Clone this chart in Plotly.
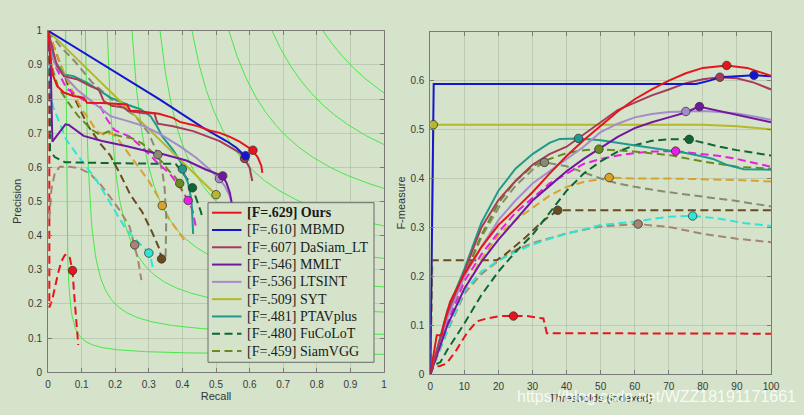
import numpy as np
import plotly.graph_objects as go

# ---------------- data ----------------
names = ["Ours", "MBMD", "DaSiam_LT", "MMLT", "LTSINT", "SYT", "PTAVplus", "FuCoLoT", "SiamVGG",
         "Tracker-10", "Tracker-11", "Tracker-12", "Tracker-13", "Tracker-14", "Tracker-15", "Tracker-16"]
legend_scores = [".629", ".610", ".607", ".546", ".536", ".509", ".481", ".480", ".459"]
colors = ["#e8141c", "#1616d2", "#a63c5c", "#7218a0", "#a68bcb", "#b4b82a", "#1f9a8c", "#0e6636", "#6b8a1e",
          "#e81ee0", "#8a8a72", "#d9a22a", "#6b4a22", "#2ee6d6", "#a88470", "#e8141c"]
dashed = [False, False, False, False, False, False, False, True, True,
          True, True, True, True, True, True, True]

# Precision-Recall curves
ours_R = [0, 0.005, 0.012, 0.027, 0.047, 0.076, 0.106, 0.116, 0.16, 0.235, 0.245, 0.26, 0.3, 0.33, 0.372, 0.392,
          0.441, 0.481, 0.511, 0.54, 0.57, 0.608, 0.625, 0.635, 0.638]
ours_P = [1, 0.95, 0.877, 0.838, 0.819, 0.809, 0.804, 0.789, 0.788, 0.784, 0.765, 0.766, 0.762, 0.757, 0.745, 0.733,
          0.722, 0.708, 0.701, 0.69, 0.675, 0.651, 0.628, 0.604, 0.584]
mbmd_R = [0, 0.332, 0.461, 0.531, 0.56, 0.575, 0.588]
mbmd_P = [1, 0.799, 0.716, 0.677, 0.658, 0.645, 0.632]
dasiam_R = [0, 0.008, 0.017, 0.027, 0.047, 0.086, 0.126, 0.151, 0.166, 0.19, 0.225, 0.24, 0.285, 0.317, 0.322, 0.327,
            0.372, 0.432, 0.511, 0.57, 0.585, 0.6, 0.608]
dasiam_P = [1, 0.97, 0.936, 0.897, 0.867, 0.858, 0.838, 0.828, 0.794, 0.78, 0.775, 0.765, 0.758, 0.758, 0.74, 0.728,
            0.72, 0.706, 0.677, 0.643, 0.626, 0.599, 0.56]
mmlt_R = [0, 0.008, 0.013, 0.032, 0.052, 0.062, 0.106, 0.161, 0.235, 0.314, 0.332, 0.412, 0.471, 0.519, 0.531, 0.541,
          0.546, 0.548]
mmlt_P = [1, 0.9, 0.675, 0.701, 0.726, 0.724, 0.692, 0.677, 0.662, 0.643, 0.641, 0.62, 0.593, 0.575, 0.555, 0.526,
          0.5, 0.47]
ltsint_R = [0, 0.007, 0.027, 0.057, 0.086, 0.116, 0.161, 0.186, 0.235, 0.285, 0.334, 0.392, 0.441, 0.481, 0.509,
            0.526, 0.541, 0.548]
ltsint_P = [1, 0.936, 0.892, 0.858, 0.828, 0.804, 0.77, 0.75, 0.736, 0.721, 0.697, 0.662, 0.628, 0.594, 0.567,
            0.546, 0.516, 0.49]
syt_R = [0, 0.25, 0.5]
syt_P = [1, 0.76, 0.52]
ptav_R = [0, 0.008, 0.017, 0.047, 0.076, 0.116, 0.156, 0.186, 0.235, 0.275, 0.305, 0.324, 0.339, 0.372, 0.397, 0.40,
          0.417, 0.427, 0.43, 0.432]
ptav_P = [1, 0.96, 0.916, 0.872, 0.867, 0.848, 0.823, 0.804, 0.784, 0.77, 0.75, 0.721, 0.692, 0.651, 0.612, 0.595,
          0.553, 0.504, 0.446, 0.405]
fucolot_R = [0.004, 0.005, 0.006, 0.02, 0.05, 0.2, 0.38, 0.4, 0.415, 0.43, 0.445, 0.455, 0.46]
fucolot_P = [1, 0.8, 0.65, 0.63, 0.615, 0.612, 0.61, 0.585, 0.565, 0.54, 0.5, 0.47, 0.45]
siamvgg_R = [0, 0.01, 0.03, 0.06, 0.09, 0.11, 0.13, 0.155, 0.18, 0.2, 0.22, 0.25, 0.28, 0.31, 0.34, 0.36, 0.38,
             0.392, 0.40]
siamvgg_P = [1, 0.9, 0.835, 0.79, 0.75, 0.73, 0.71, 0.695, 0.705, 0.695, 0.69, 0.685, 0.67, 0.645, 0.615, 0.59, 0.57,
             0.553, 0.53]
t10_R = [0, 0.02, 0.055, 0.085, 0.114, 0.154, 0.174, 0.198, 0.243, 0.283, 0.322, 0.362, 0.392, 0.417, 0.43, 0.44]
t10_P = [1, 0.9, 0.831, 0.81, 0.792, 0.782, 0.743, 0.709, 0.69, 0.656, 0.617, 0.582, 0.543, 0.503, 0.475, 0.426]
t11_R = [0, 0.04, 0.08, 0.13, 0.2, 0.26, 0.3, 0.327, 0.34, 0.347, 0.352, 0.352, 0.35, 0.345]
t11_P = [1, 0.95, 0.91, 0.85, 0.79, 0.75, 0.70, 0.637, 0.59, 0.54, 0.45, 0.38, 0.34, 0.33]
t12_R = [0, 0.02, 0.05, 0.08, 0.1, 0.12, 0.145, 0.17, 0.19, 0.21, 0.24, 0.27, 0.3, 0.33, 0.34, 0.36, 0.39, 0.407]
t12_P = [1, 0.95, 0.87, 0.81, 0.77, 0.745, 0.705, 0.695, 0.70, 0.68, 0.64, 0.60, 0.56, 0.51, 0.488, 0.45, 0.41, 0.385]
t13_R = [0, 0.03, 0.06, 0.09, 0.12, 0.155, 0.185, 0.215, 0.245, 0.28, 0.31, 0.332, 0.338]
t13_P = [1, 0.92, 0.84, 0.78, 0.72, 0.67, 0.635, 0.58, 0.52, 0.47, 0.41, 0.36, 0.332]
t14_R = [0.004, 0.006, 0.015, 0.03, 0.055, 0.084, 0.114, 0.144, 0.174, 0.203, 0.233, 0.263, 0.283, 0.30, 0.307, 0.313]
t14_P = [0.9, 0.817, 0.778, 0.739, 0.68, 0.641, 0.602, 0.563, 0.514, 0.465, 0.417, 0.387, 0.368, 0.349, 0.329, 0.30]
t15_R = [0.004, 0.01, 0.02, 0.035, 0.064, 0.094, 0.124, 0.154, 0.184, 0.213, 0.243, 0.253, 0.258, 0.268, 0.278]
t15_P = [0.45, 0.534, 0.582, 0.602, 0.602, 0.597, 0.582, 0.553, 0.514, 0.475, 0.426, 0.387, 0.373, 0.329, 0.27]
t16_R = [0.004, 0.004, 0.012, 0.02, 0.03, 0.04, 0.05, 0.058, 0.065, 0.07, 0.073, 0.077, 0.082, 0.087, 0.09]
t16_P = [1, 0.19, 0.21, 0.25, 0.29, 0.325, 0.343, 0.345, 0.335, 0.31, 0.298, 0.24, 0.17, 0.1, 0.08]

# maximum-F operating points (PR plot)
best_R = [0.61, 0.588, 0.585, 0.52, 0.51, 0.5, 0.40, 0.43, 0.392, 0.417, 0.327, 0.34, 0.338, 0.30, 0.258, 0.073]
best_P = [0.65, 0.634, 0.626, 0.575, 0.567, 0.52, 0.595, 0.54, 0.553, 0.503, 0.637, 0.488, 0.332, 0.349, 0.373, 0.298]

# F-measure vs threshold curves
ours_T = [0, 1.9, 3.3, 3.8, 5.8, 8.7, 10, 15, 20, 25, 30, 35, 40, 45, 50, 55, 60, 65, 70, 75, 80, 87, 93, 100]
ours_F = [0, 0.08, 0.08, 0.097, 0.148, 0.186, 0.205, 0.26, 0.305, 0.338, 0.372, 0.41, 0.446, 0.478, 0.508, 0.537,
          0.562, 0.582, 0.6, 0.615, 0.626, 0.631, 0.626, 0.61]
mbmd_T = [0, 1, 78, 82, 85, 90, 95, 100]
mbmd_F = [0, 0.593, 0.593, 0.6, 0.607, 0.609, 0.611, 0.609]
dasiam_T = [0, 5, 10, 15, 20, 25, 30, 35, 40, 45, 50, 55, 60, 65, 70, 75, 80, 85, 90, 95, 100]
dasiam_F = [0, 0.125, 0.21, 0.3, 0.356, 0.395, 0.428, 0.45, 0.465, 0.49, 0.516, 0.54, 0.555, 0.57, 0.582, 0.595,
            0.603, 0.607, 0.605, 0.596, 0.582]
mmlt_T = [0, 5, 10, 15, 20, 25, 30, 35, 40, 45, 50, 55, 60, 65, 70, 75, 78.8, 85, 90, 95, 100]
mmlt_F = [0, 0.1, 0.175, 0.23, 0.275, 0.315, 0.355, 0.385, 0.415, 0.44, 0.462, 0.485, 0.503, 0.515, 0.525, 0.535,
          0.547, 0.538, 0.531, 0.523, 0.515]
ltsint_T = [0, 5, 10, 15, 20, 25, 30, 35, 40, 45, 50, 55, 60, 65, 70, 75, 80, 85, 90, 95, 100]
ltsint_F = [0, 0.115, 0.2, 0.26, 0.315, 0.355, 0.39, 0.415, 0.44, 0.465, 0.495, 0.512, 0.525, 0.532, 0.536, 0.537,
            0.538, 0.536, 0.533, 0.527, 0.52]
syt_T = [0, 0.9, 80, 85, 90, 95, 100]
syt_F = [0, 0.51, 0.51, 0.509, 0.507, 0.504, 0.5]
ptav_T = [0, 5, 10, 15, 20, 25, 30, 35, 38, 43.5, 50, 55, 60, 65, 70, 75, 80, 83, 87, 92, 100]
ptav_F = [0, 0.13, 0.215, 0.31, 0.375, 0.42, 0.45, 0.473, 0.481, 0.482, 0.478, 0.473, 0.468, 0.463, 0.458, 0.452,
          0.445, 0.44, 0.428, 0.419, 0.418]
fucolot_T = [0, 1, 3, 5, 10, 15, 20, 25, 30, 35, 40, 45, 50, 55, 60, 65, 70, 76, 80, 85, 90, 95, 100]
fucolot_F = [0, 0.018, 0.025, 0.05, 0.104, 0.162, 0.21, 0.25, 0.285, 0.33, 0.375, 0.41, 0.435, 0.455, 0.468, 0.477,
             0.48, 0.48, 0.473, 0.465, 0.458, 0.452, 0.447]
siamvgg_T = [0, 5, 10, 15, 20, 25, 30, 35, 40, 45, 49.5, 55, 60, 70, 80, 90, 100]
siamvgg_F = [0, 0.12, 0.2, 0.285, 0.35, 0.395, 0.425, 0.44, 0.452, 0.458, 0.46, 0.458, 0.455, 0.448, 0.435, 0.424, 0.42]
t10_T = [0, 5, 10, 15, 20, 25, 30, 35, 40, 45, 50, 55, 60, 65, 72, 80, 85, 90, 95, 100]
t10_F = [0, 0.105, 0.19, 0.245, 0.29, 0.33, 0.36, 0.39, 0.41, 0.43, 0.44, 0.447, 0.452, 0.455, 0.456, 0.45, 0.446,
         0.44, 0.432, 0.424]
t11_T = [0, 5, 10, 15, 20, 25, 30, 33.5, 40, 45, 50, 55, 60, 70, 80, 90, 100]
t11_F = [0, 0.12, 0.2, 0.28, 0.34, 0.385, 0.418, 0.433, 0.425, 0.412, 0.4, 0.39, 0.383, 0.372, 0.363, 0.354, 0.343]
t12_T = [0, 5, 10, 15, 20, 25, 30, 35, 40, 45, 52.5, 60, 70, 80, 90, 100]
t12_F = [0, 0.1, 0.175, 0.235, 0.285, 0.315, 0.34, 0.365, 0.383, 0.393, 0.402, 0.4, 0.4, 0.399, 0.397, 0.394]
t13_T = [0, 0.6, 1, 19.5, 22, 25, 28, 31, 34, 37.4, 100]
t13_F = [0, 0.233, 0.233, 0.233, 0.245, 0.262, 0.28, 0.3, 0.318, 0.335, 0.335]
t14_T = [0, 5, 10, 15, 20, 25, 30, 35, 40, 50, 60, 70, 77, 84, 92, 100]
t14_F = [0, 0.09, 0.17, 0.21, 0.232, 0.25, 0.265, 0.277, 0.287, 0.305, 0.312, 0.322, 0.3235, 0.319, 0.309, 0.303]
t15_T = [0, 5, 10, 15, 20, 25, 30, 40, 50, 61, 70, 80, 90, 100]
t15_F = [0, 0.088, 0.165, 0.205, 0.232, 0.254, 0.268, 0.288, 0.302, 0.307, 0.301, 0.287, 0.277, 0.27]
t16_T = [0, 0.9, 2.8, 4.8, 7.7, 10.7, 13.6, 16.5, 20.5, 24.4, 28.3, 33.2, 34.2, 100]
t16_F = [0, 0.016, 0.017, 0.022, 0.05, 0.084, 0.108, 0.114, 0.119, 0.119, 0.119, 0.114, 0.084, 0.083]

best_T = [87, 95, 85, 79, 75, 0.9, 43.5, 76, 49.5, 72, 33.5, 52.5, 37.4, 77, 61, 24.4]
best_F = [0.631, 0.611, 0.607, 0.547, 0.537, 0.51, 0.482, 0.48, 0.46, 0.456, 0.433, 0.402, 0.335, 0.3235, 0.307, 0.119]

pr_R = [ours_R, mbmd_R, dasiam_R, mmlt_R, ltsint_R, syt_R, ptav_R, fucolot_R, siamvgg_R,
        t10_R, t11_R, t12_R, t13_R, t14_R, t15_R, t16_R]
pr_P = [ours_P, mbmd_P, dasiam_P, mmlt_P, ltsint_P, syt_P, ptav_P, fucolot_P, siamvgg_P,
        t10_P, t11_P, t12_P, t13_P, t14_P, t15_P, t16_P]
fm_T = [ours_T, mbmd_T, dasiam_T, mmlt_T, ltsint_T, syt_T, ptav_T, fucolot_T, siamvgg_T,
        t10_T, t11_T, t12_T, t13_T, t14_T, t15_T, t16_T]
fm_F = [ours_F, mbmd_F, dasiam_F, mmlt_F, ltsint_F, syt_F, ptav_F, fucolot_F, siamvgg_F,
        t10_F, t11_F, t12_F, t13_F, t14_F, t15_F, t16_F]

iso_F_levels = [0.1, 0.2, 0.3, 0.4, 0.5, 0.6, 0.7, 0.8, 0.9]

# ---------------- figure ----------------
BG = "#d4e3c9"
W, H = 804, 415
DASH = "8px,4.5px"

fig = go.Figure()

# iso-F reference curves
for f in iso_F_levels:
    r = np.linspace(f / (2 - f), 1, 300)
    p = f * r / (2 * r - f)
    fig.add_trace(go.Scatter(x=r, y=p, mode="lines", line=dict(color="#49e649", width=1),
                             hoverinfo="skip", showlegend=False, xaxis="x", yaxis="y"))

order = list(range(len(names)))[::-1]
for i in order:
    ln = dict(color=colors[i], width=2, dash=DASH if dashed[i] else "solid")
    fig.add_trace(go.Scatter(x=pr_R[i], y=pr_P[i], mode="lines", line=ln, name=names[i],
                             showlegend=False, xaxis="x", yaxis="y"))
    fig.add_trace(go.Scatter(x=fm_T[i], y=fm_F[i], mode="lines", line=ln, name=names[i],
                             showlegend=False, xaxis="x2", yaxis="y2"))
for i in order:
    mk = dict(color=colors[i], size=8.5, line=dict(color="rgba(50,50,50,0.75)", width=1))
    fig.add_trace(go.Scatter(x=[best_R[i]], y=[best_P[i]], mode="markers", marker=mk,
                             showlegend=False, xaxis="x", yaxis="y"))
    fig.add_trace(go.Scatter(x=[best_T[i]], y=[best_F[i]], mode="markers", marker=mk,
                             showlegend=False, xaxis="x2", yaxis="y2"))

axis_common = dict(showline=True, linecolor="#7a7a7a", linewidth=1, mirror="ticks", ticks="inside",
                   ticklen=4, tickcolor="#7a7a7a", showgrid=True, gridcolor="rgba(110,120,110,0.22)",
                   gridwidth=1, zeroline=False, ticklabelstandoff=3, automargin=False,
                   tickfont=dict(family="Liberation Sans, Arial", size=10, color="#3a3a3a"))
title_font = dict(family="Liberation Sans, Arial", size=11, color="#333333")

fig.update_layout(
    width=W, height=H, margin=dict(l=0, r=0, t=0, b=0, autoexpand=False),
    paper_bgcolor=BG, plot_bgcolor=BG, showlegend=False,
    xaxis=dict(domain=[48 / W, 384 / W], range=[0, 1], tickvals=[i / 10 for i in range(11)],
               ticktext=["0"] + [f"0.{i}" for i in range(1, 10)] + ["1"],
               title=dict(text="Recall", font=title_font, standoff=2), anchor="y", **axis_common),
    yaxis=dict(domain=[1 - 372.3 / H, 1 - 30.7 / H], range=[0, 1], tickvals=[i / 10 for i in range(11)],
               ticktext=["0"] + [f"0.{i}" for i in range(1, 10)] + ["1"],
               title=dict(text="Precision", font=title_font, standoff=4), anchor="x", **axis_common),
    xaxis2=dict(domain=[430.3 / W, 771 / W], range=[0, 100], tickvals=list(range(0, 101, 10)),
                title=dict(text="Thresholds (indexed)", font=title_font, standoff=2), anchor="y2",
                **axis_common),
    yaxis2=dict(domain=[1 - 374.3 / H, 1 - 31.7 / H], range=[0, 0.7], tickvals=[i / 10 for i in range(7)],
                ticktext=["0"] + [f"0.{i}" for i in range(1, 7)],
                title=dict(text="F-measure", font=title_font, standoff=2), anchor="x2", **axis_common),
)

# legend box (drawn like the MATLAB legend, above the curves)
lx0, lx1, ly0, ly1 = 208, 374, 202.7, 362.3
shapes = [dict(type="rect", xref="paper", yref="paper", x0=lx0 / W, x1=lx1 / W, y0=1 - ly1 / H, y1=1 - ly0 / H,
               fillcolor=BG, line=dict(color="#6a6a6a", width=1), layer="above")]
annotations = []
for k, sc in enumerate(legend_scores):
    yc = 212.7 + k * 17.29
    shapes.append(dict(type="line", xref="paper", yref="paper", x0=212 / W, x1=241.5 / W,
                       y0=1 - yc / H, y1=1 - yc / H, layer="above",
                       line=dict(color=colors[k], width=2, dash=DASH if dashed[k] else "solid")))
    txt = f"[F={sc}] {names[k]}"
    if k == 0:
        txt = f"<b>{txt}</b>"
    annotations.append(dict(xref="paper", yref="paper", x=245 / W, y=1 - yc / H, xanchor="left",
                            yanchor="middle", text=txt, showarrow=False,
                            font=dict(family="Liberation Serif, Times New Roman, serif", size=14,
                                      color="#1a1a1a")))
annotations.append(dict(xref="paper", yref="paper", x=(518 + 795) / 2 / W, y=1 - 396 / H, xanchor="center",
                        yanchor="middle", text="https://blog.csdn.net/WZZ18191171661", showarrow=False,
                        font=dict(family="Liberation Sans, Arial", size=16, color="rgba(255,255,255,0.85)")))
fig.update_layout(shapes=shapes, annotations=annotations)

fig.write_html("out.html", config={"displayModeBar": False},
               post_script="document.body.style.margin='0';document.body.style.background='" + BG + "';")
